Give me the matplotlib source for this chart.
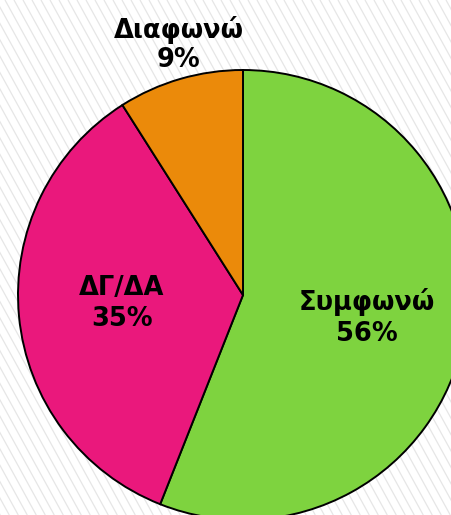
import matplotlib
matplotlib.use("Agg")
import matplotlib.pyplot as plt
import numpy as np

labels = ["Συμφωνώ", "ΔΓ/ΔΑ", "Διαφωνώ"]
values = [56, 35, 9]
colors = ["#7ED33F", "#EA187C", "#EB8A0A"]

W, H = 452, 515
fig = plt.figure(figsize=(W / 100, H / 100), dpi=100)
fig.patch.set_facecolor("white")
ax = fig.add_axes([0, 0, 1, 1])

# background diagonal stripes
slope = 0.55
step = 9
for x0 in np.arange(-400, W + 20, step):
    ax.plot([x0, x0 + slope * H], [H, 0], color="#e6e6e6", lw=0.9, zorder=0,
            solid_capstyle="butt")

cx, cy, r = 243, H - 295, 225
wedges, _ = ax.pie(values, colors=colors, startangle=90, counterclock=False,
                   center=(cx, cy), radius=r, frame=True,
                   wedgeprops=dict(edgecolor="black", linewidth=1.4))
for w in wedges:
    w.set_zorder(2)
ax.set_xlim(0, W)
ax.set_ylim(0, H)
ax.set_aspect("equal")
ax.axis("off")

# (x, baseline of name line, baseline of percent line) in image px
label_pos = [(367, 310, 341), (122, 295, 326), (179, 38, 67)]
for lab, v, (x, y1, y2) in zip(labels, values, label_pos):
    ax.text(x, H - y1, lab, ha="center", va="baseline",
            fontsize=18.5, fontweight="bold", family="DejaVu Sans",
            zorder=5, color="black")
    ax.text(x, H - y2, f"{v}%", ha="center", va="baseline",
            fontsize=18.5, fontweight="bold", family="DejaVu Sans",
            zorder=5, color="black")

fig.savefig("out.png", dpi=100, facecolor="white")
